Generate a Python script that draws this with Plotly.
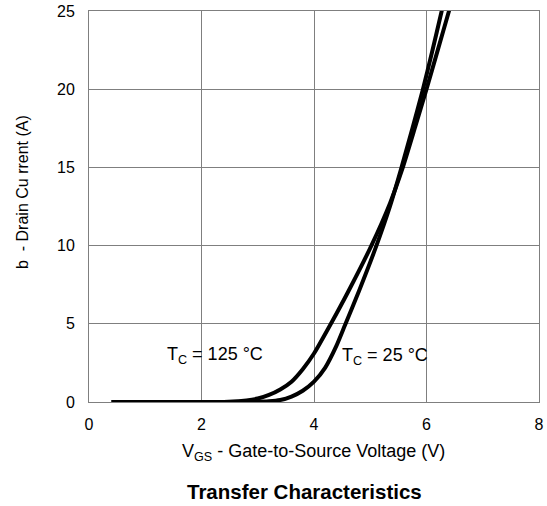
import plotly.graph_objects as go

# Transfer characteristics data
vgs_25 = [0.4, 2.0, 2.8, 3.2, 3.4, 3.6, 3.8, 4.0, 4.2, 4.4, 4.55, 4.8, 5.1, 5.35, 5.54, 5.75, 5.93, 6.1, 6.27, 6.32]
id_25 = [0.0, 0.0, 0.01, 0.05, 0.13, 0.35, 0.72, 1.3, 2.2, 3.6, 4.9, 7.1, 9.9, 12.5, 14.8, 17.5, 19.9, 22.4, 25.0, 25.8]

vgs_125 = [0.4, 2.0, 2.5, 2.8, 3.0, 3.2, 3.4, 3.6, 3.8, 4.0, 4.3, 4.6, 5.02, 5.35, 5.57, 5.8, 6.0, 6.2, 6.4, 6.45]
id_125 = [0.0, 0.0, 0.02, 0.1, 0.22, 0.45, 0.8, 1.3, 2.1, 3.1, 5.0, 7.0, 10.0, 12.7, 14.9, 17.6, 20.0, 22.5, 25.0, 25.6]

x_ticks = [0, 2, 4, 6, 8]
y_ticks = [0, 5, 10, 15, 20, 25]

FONT = "Liberation Sans, Arial, sans-serif"
PLOT_H = 506 - 11 - 104
PLOT_W = 547 - 89 - 8

fig = go.Figure()
fig.add_trace(go.Scatter(x=vgs_125, y=id_125, mode="lines", line=dict(color="black", width=4, shape="spline", smoothing=0.6), showlegend=False))
fig.add_trace(go.Scatter(x=vgs_25, y=id_25, mode="lines", line=dict(color="black", width=4, shape="spline", smoothing=0.6), showlegend=False))

fig.add_annotation(x=2.24, y=3.0, text="T<sub>C</sub> = 125 °C", showarrow=False, font=dict(family=FONT, size=18, color="black"))
fig.add_annotation(x=5.27, y=2.9, text="T<sub>C</sub> = 25 °C", showarrow=False, font=dict(family=FONT, size=18, color="black"))

fig.add_annotation(xref="paper", yref="paper", x=(313 - 89) / PLOT_W, y=-(453 - 402) / PLOT_H, text="V<sub>GS</sub> - Gate-to-Source Voltage (V)", showarrow=False, font=dict(family=FONT, size=18, color="black"), xanchor="center", yanchor="middle")
fig.add_annotation(xref="paper", yref="paper", x=(304 - 89) / PLOT_W, y=-(491 - 402) / PLOT_H, text="<b>Transfer Characteristics</b>", showarrow=False, font=dict(family=FONT, size=20.5, color="black"), xanchor="center", yanchor="middle")
fig.add_annotation(xref="paper", yref="paper", x=-(89 - 22) / PLOT_W, y=(402 - 192) / PLOT_H, text="b  - Drain Cu rrent (A)", textangle=-90, showarrow=False, font=dict(family=FONT, size=16, color="black"), xanchor="center", yanchor="middle")

fig.update_xaxes(range=[0, 8], tickvals=x_ticks, showgrid=True, gridcolor="#7f7f7f", gridwidth=1,
                 showline=True, linecolor="#7f7f7f", linewidth=1, mirror=True, zeroline=False, automargin=False,
                 ticks="", tickfont=dict(family=FONT, size=16, color="black"), ticklabelstandoff=8)
fig.update_yaxes(range=[0, 25], tickvals=y_ticks, showgrid=True, gridcolor="#7f7f7f", gridwidth=1,
                 showline=True, linecolor="#7f7f7f", linewidth=1, mirror=True, zeroline=False, automargin=False,
                 ticks="", tickfont=dict(family=FONT, size=16, color="black"), ticklabelstandoff=10)

fig.update_layout(width=547, height=506, margin=dict(l=89, r=8, t=11, b=104),
                  plot_bgcolor="white", paper_bgcolor="white")

fig.write_html("out.html", config={"displayModeBar": False},
               post_script="document.body.style.margin='0';document.body.style.overflow='hidden';")
